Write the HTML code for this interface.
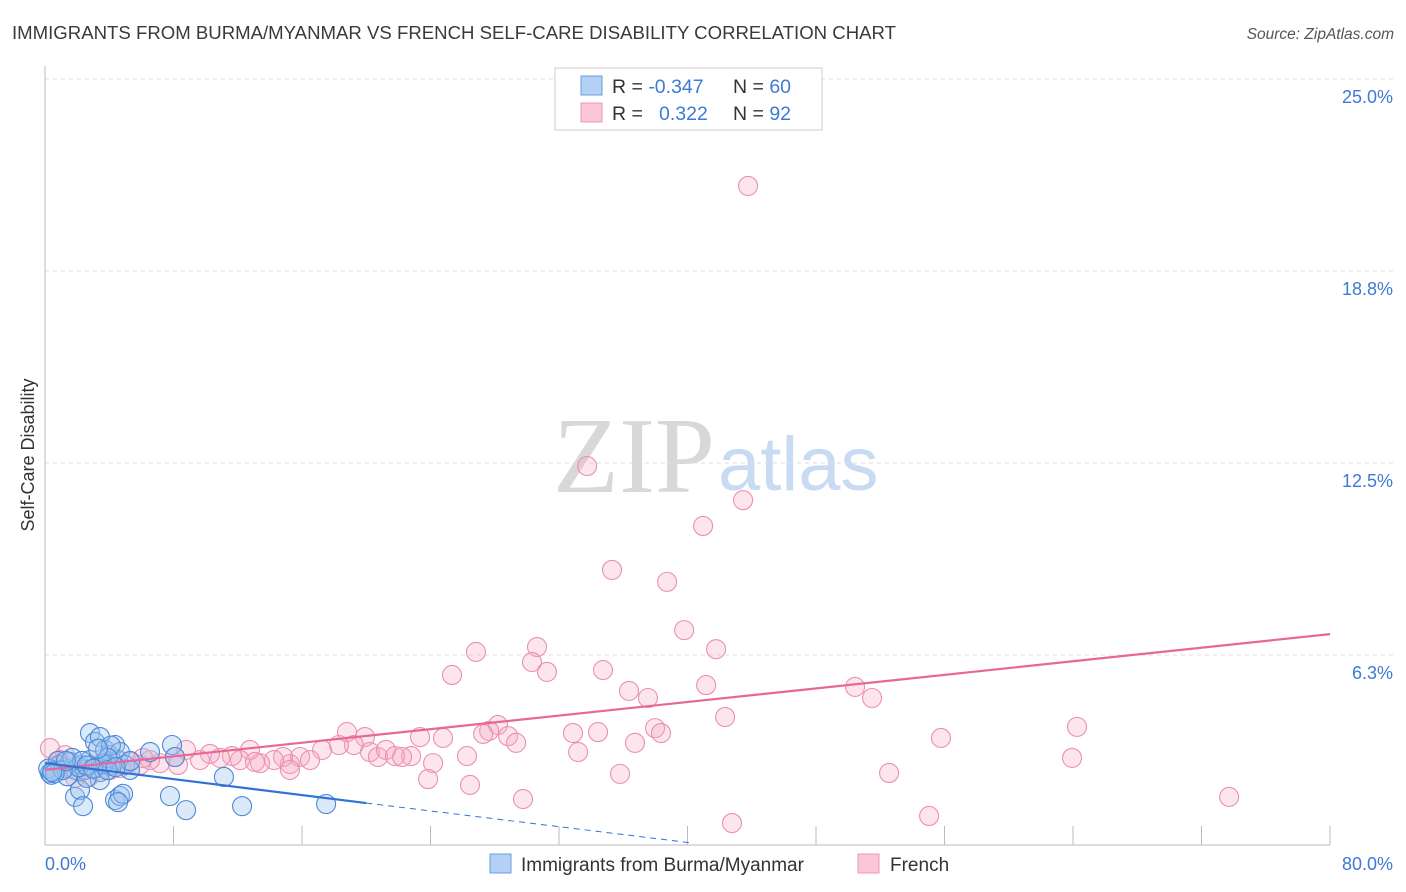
<!DOCTYPE html>
<html><head><meta charset="utf-8"><style>
body{margin:0;background:#fff;font-family:"Liberation Sans",sans-serif}
svg{display:block}
</style></head><body>
<svg id="chart" width="1406" height="892" xmlns="http://www.w3.org/2000/svg">
<text x="12" y="39" font-size="18.6" fill="#3a3a3a">IMMIGRANTS FROM BURMA/MYANMAR VS FRENCH SELF-CARE DISABILITY CORRELATION CHART</text>
<text x="1394" y="39" font-size="15.5" fill="#555" font-style="italic" text-anchor="end">Source: ZipAtlas.com</text>
<g>
<text x="553" y="492" font-size="108" font-family="Liberation Serif,serif" fill="#d8d8d8">ZIP</text>
<text x="718" y="490" font-size="76" fill="#c9dbf2">atlas</text>
</g>
<g id="grid"></g>
<line x1="45" y1="66" x2="45" y2="845" stroke="#bbb"/>
<line x1="45" y1="845" x2="1330" y2="845" stroke="#bbb"/>
<g id="xticks"></g>
<text x="34" y="455" font-size="18" fill="#333" transform="rotate(-90 34 455)" text-anchor="middle">Self-Care Disability</text>
<text x="45" y="870" font-size="18" fill="#3d7ad6">0.0%</text>
<text x="1393" y="870" font-size="18" fill="#3d7ad6" text-anchor="end">80.0%</text>
<g id="pts"></g>
<g id="lines"></g>
<g>
<rect x="555" y="68" width="267" height="62" fill="#fff" stroke="#ccc"/>
<rect x="581" y="76" width="21" height="19" fill="#b4d0f4" stroke="#6a9ee0"/>
<rect x="581" y="103" width="21" height="19" fill="#fbc6d6" stroke="#ec98b4"/>
<text x="612" y="93" font-size="19.5" fill="#333">R = <tspan fill="#3d7ad6">-0.347</tspan><tspan x="733">N = </tspan><tspan fill="#3d7ad6">60</tspan></text>
<text x="612" y="120" font-size="19.5" fill="#333">R = <tspan x="659" fill="#3d7ad6">0.322</tspan><tspan x="733">N = </tspan><tspan fill="#3d7ad6">92</tspan></text>
</g>
<g>
<rect x="490" y="854" width="21" height="19" fill="#b4d0f4" stroke="#6a9ee0"/>
<text x="521" y="871" font-size="19" fill="#333">Immigrants from Burma/Myanmar</text>
<rect x="858" y="854" width="21" height="19" fill="#fbc6d6" stroke="#ec98b4"/>
<text x="890" y="871" font-size="19" fill="#333">French</text>
</g>
</svg>
<script>
const yTicks=[6.25,12.5,18.75,25];
const yTickLabels=["6.3%","12.5%","18.8%","25.0%"];
const xTicks=[0,8,16,24,32,40,48,56,64,72,80];
const blueX=[0.31,0.62,0.93,1.25,1.56,1.87,2.18,2.49,2.80,3.11,3.42,3.74,4.05,2.80,3.11,3.42,3.74,4.05,4.36,4.55,4.67,4.98,5.29,1.87,2.18,2.37,3.42,4.36,4.67,4.86,4.55,6.54,7.91,8.09,7.78,8.78,11.14,12.27,17.50,0.2,0.4,0.8,1.4,2.6,3.6,4.1,3.9,2.1,1.1,1.7,0.6,3.3,5.3,2.3,1.3,2.6,3.0,3.9,4.4,0.45];
const blueY=[2.41,2.51,2.67,2.57,2.77,2.51,2.67,2.51,2.83,2.57,2.44,2.73,2.64,3.71,3.42,3.58,3.16,2.99,3.32,2.83,3.09,2.67,2.51,1.63,1.86,1.33,2.18,1.53,1.66,1.73,1.46,3.09,3.32,2.93,1.66,1.20,2.28,1.33,1.40,2.55,2.35,2.80,2.30,2.25,2.70,3.30,2.90,2.60,2.50,2.90,2.40,3.20,2.80,2.80,2.80,2.65,2.55,2.50,2.60,2.45];
const pinkX=[43.77,33.75,43.46,40.97,35.30,38.73,39.79,26.83,30.63,30.32,41.78,25.34,31.25,34.74,41.16,36.36,37.54,50.43,51.49,42.34,64.25,37.98,38.35,32.87,34.43,36.73,28.20,27.65,27.28,28.83,29.33,55.78,33.19,26.27,23.35,24.78,22.79,24.16,23.85,26.46,29.76,35.80,52.55,63.94,73.72,55.04,42.77,18.80,19.92,19.23,17.25,18.30,20.23,20.73,21.23,21.79,22.23,15.25,15.88,16.50,14.82,14.26,13.39,12.76,12.14,11.64,10.90,10.27,9.65,8.78,8.09,7.16,6.54,5.91,5.29,4.67,4.05,3.42,2.80,2.18,1.56,0.93,0.31,1.25,15.25,2.49,1.87,3.30,13.07,8.28,6.10,0.6];
const pinkY=[21.52,12.40,11.29,10.45,9.02,8.63,7.06,6.35,6.51,6.02,6.44,5.60,5.70,5.76,5.27,5.08,4.85,5.21,4.85,4.23,3.91,3.87,3.71,3.71,3.74,3.39,3.97,3.78,3.68,3.61,3.39,3.55,3.09,2.96,3.58,3.55,2.96,2.73,2.21,2.02,1.56,2.38,2.41,2.90,1.63,1.01,0.78,3.74,3.58,3.32,3.16,3.32,3.09,2.93,3.16,2.96,2.93,2.70,2.93,2.83,2.93,2.83,2.73,3.16,2.83,2.96,2.90,3.03,2.83,3.16,2.93,2.73,2.83,2.67,2.77,2.57,2.51,2.44,2.31,2.44,2.57,2.83,3.22,2.99,2.51,2.51,2.25,2.67,2.77,2.67,2.90,2.6];
const pinkTrend=[2.51,6.93];
const blueTrend=[2.73,1.43,0.13];
const blueTrendX=[0,20.0,40.3];
const NS="http://www.w3.org/2000/svg";
const sx=v=>45+v/80*1285;
const sy=v=>847-v/6.25*192;
function mk(tag,attrs,parent){const e=document.createElementNS(NS,tag);for(const k in attrs)e.setAttribute(k,attrs[k]);parent.appendChild(e);return e;}
const grid=document.getElementById('grid');
yTicks.forEach((t,i)=>{
 const l=mk('line',{x1:45,x2:1393,y1:sy(t),y2:sy(t),stroke:'#ddd','stroke-dasharray':'4,4'},grid);
 
 
 const tx=mk('text',{x:1393,y:sy(t)+24,'font-size':'18',fill:'#3d7ad6','text-anchor':'end'},grid);
 tx.textContent=yTickLabels[i];
 
 
});
const xt=document.getElementById('xticks');
xTicks.forEach(t=>{
 const l=mk('line',{x1:sx(t),x2:sx(t),y1:826,y2:845,stroke:'#bbb'},xt);
 
 
});
const pts=document.getElementById('pts');
pinkX.forEach((x,i)=>{
 const c=mk('circle',{cx:sx(x),cy:sy(pinkY[i]),r:9.5,fill:'rgba(246,170,196,0.3)',stroke:'#ec8fb0','stroke-width':1.1},pts);
 
 
});
blueX.forEach((x,i)=>{
 const c=mk('circle',{cx:sx(x),cy:sy(blueY[i]),r:9.5,fill:'rgba(160,196,240,0.38)',stroke:'#4a88d8','stroke-width':1.1},pts);
 
 
});
const lines=document.getElementById('lines');
const pl=mk('line',{x1:sx(0),y1:sy(pinkTrend[0]),x2:sx(80),y2:sy(pinkTrend[1]),stroke:'#e8679a','stroke-width':2.2},lines);


const bl=mk('line',{x1:sx(blueTrendX[0]),y1:sy(blueTrend[0]),x2:sx(blueTrendX[1]),y2:sy(blueTrend[1]),stroke:'#2f73d6','stroke-width':2.2},lines);


const bd=mk('line',{x1:sx(blueTrendX[1]),y1:sy(blueTrend[1]),x2:sx(blueTrendX[2]),y2:sy(blueTrend[2]),stroke:'#2f73d6','stroke-width':1,'stroke-dasharray':'6,5'},lines);


</script>
</body></html>
